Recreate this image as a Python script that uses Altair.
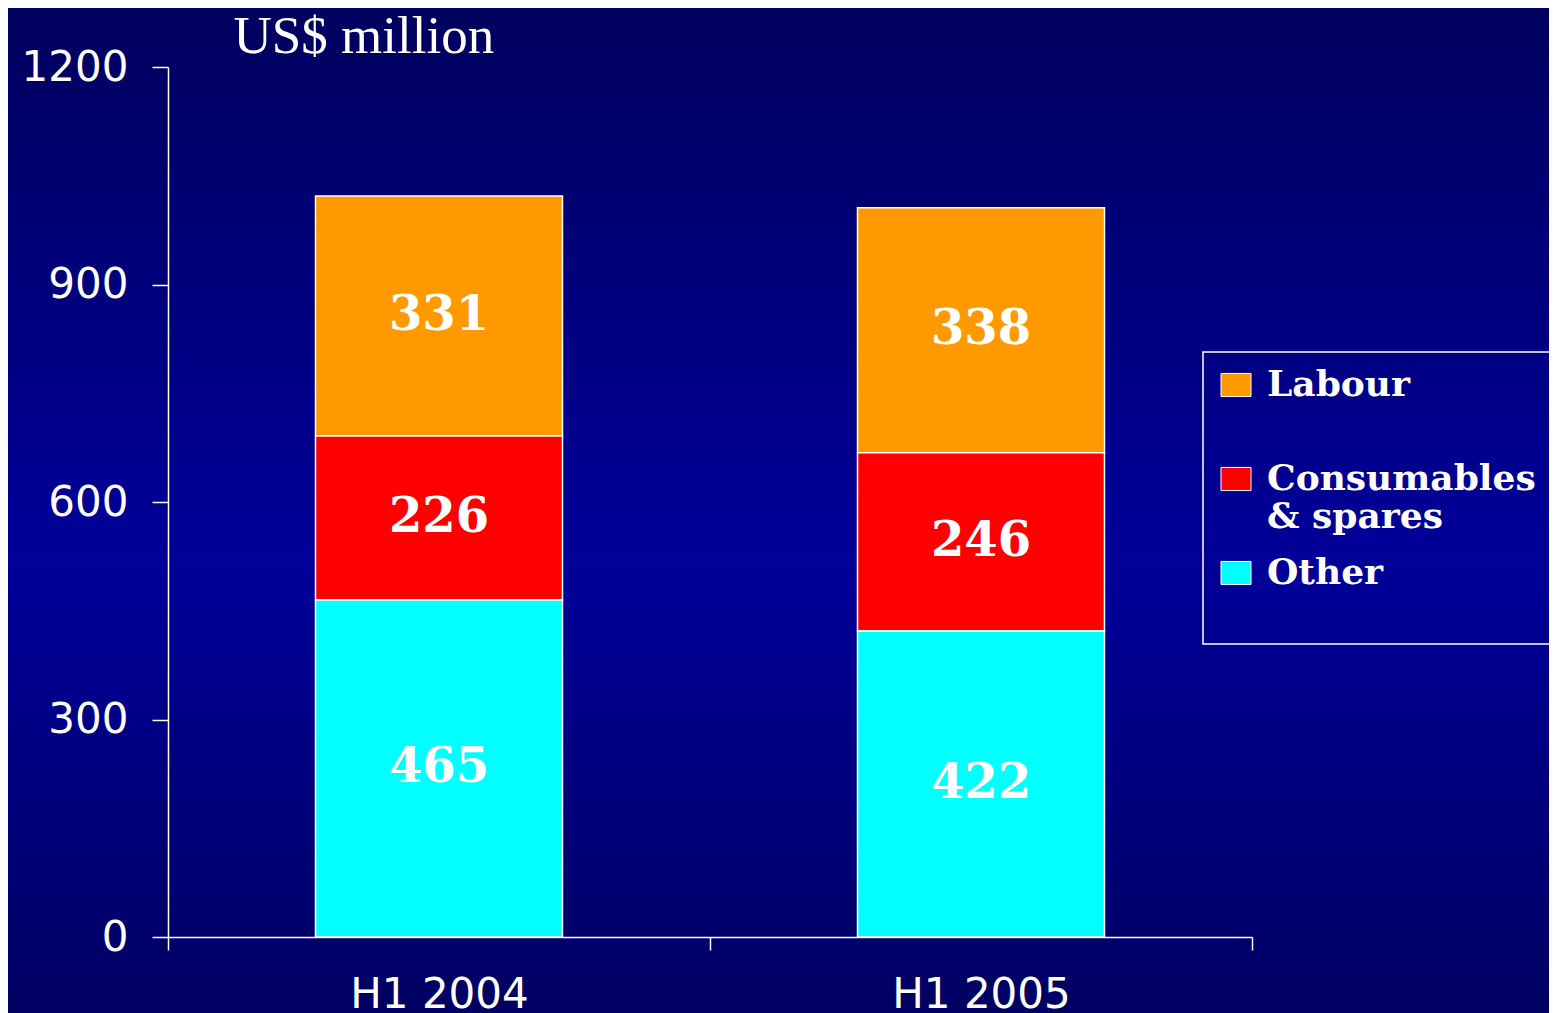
import altair as alt
import pandas as pd

# ---- data ----
periods = ["H1 2004", "H1 2005"]
categories = ["Labour", "Consumables & spares", "Other"]
labour = [331, 338]
consumables = [226, 246]
other = [465, 422]
colors = ["#FF9900", "#FF0000", "#00FFFF"]
y_ticks = [0, 300, 600, 900, 1200]
unit_label = "US$ million"

series = {"Labour": labour, "Consumables & spares": consumables, "Other": other}
stack_order = {"Other": 0, "Consumables & spares": 1, "Labour": 2}
rows = []
for cat, vals in series.items():
    for p, v in zip(periods, vals):
        rows.append({"Period": p, "Category": cat, "Value": v, "order": stack_order[cat]})
df = pd.DataFrame(rows)

W, H = 1084, 870
PAD = {"left": 160, "top": 59, "right": 297, "bottom": 76}

# background gradient panel (decoration, covers whole canvas)
bg = alt.Chart(pd.DataFrame({"k": [0]})).mark_rect(
    color=alt.LinearGradient(
        gradient="linear", x1=0, x2=0, y1=0, y2=1,
        stops=[
            alt.GradientStop(offset=0, color="#00005E"),
            alt.GradientStop(offset=0.55, color="#00009A"),
            alt.GradientStop(offset=1, color="#000062"),
        ],
    )
).encode(
    x=alt.value(-PAD["left"]), x2=alt.value(W + PAD["right"]),
    y=alt.value(-PAD["top"]), y2=alt.value(H + PAD["bottom"]),
)

base = alt.Chart(df).transform_stack(
    stack="Value", groupby=["Period"], as_=["y0", "y1"],
    sort=[alt.SortField("order", order="ascending")],
).transform_calculate(mid="(datum.y0 + datum.y1) / 2")

x_enc = alt.X(
    "Period:N", sort=periods, title=None,
    scale=alt.Scale(paddingInner=0, paddingOuter=0),
    axis=alt.Axis(
        labelAngle=0, tickBand="extent", domainColor="white", tickColor="white",
        tickSize=13, labelColor="white", labelFont="DejaVu Sans", labelFontSize=42,
        labelPadding=24, domainWidth=1.5, tickWidth=1.5, zindex=1, grid=False,
    ),
)

bars = base.mark_bar(stroke="white", strokeWidth=1.5, size=247).encode(
    x=x_enc,
    y=alt.Y(
        "y0:Q",
        scale=alt.Scale(domain=[0, 1200], nice=False),
        axis=alt.Axis(
            values=y_ticks, format="d", title=unit_label, titleAngle=0, titleAlign="left",
            titleBaseline="alphabetic", titleX=65, titleY=-15,
            titleFont="Liberation Serif", titleFontSize=53, titleFontWeight="normal",
            titleColor="white", domainColor="white", tickColor="white", tickSize=16,
            labelColor="white", labelFont="DejaVu Sans", labelFontSize=42,
            labelPadding=24, domainWidth=1.5, tickWidth=1.5, grid=False, zindex=1,
        ),
    ),
    y2="y1:Q",
    color=alt.Color(
        "Category:N",
        scale=alt.Scale(domain=categories, range=colors),
        legend=alt.Legend(
            title=None, orient="none", legendX=1035, legendY=285,
            strokeColor="white", padding=15,
            symbolType="M-1,-0.77H1V0.77H-1Z", symbolSize=900,
            symbolStrokeColor="white", symbolStrokeWidth=1, symbolOpacity=1,
            labelFont="DejaVu Serif", labelFontWeight="bold", labelFontSize=36,
            labelColor="white", labelOffset=13, labelLimit=1000, rowPadding=20,
            labelExpr="datum.label == 'Consumables & spares' ? ['Consumables', '& spares'] : [datum.label, ' ']",
        ),
    ),
)

labels = base.mark_text(
    color="white", font="DejaVu Serif", fontWeight="bold", fontSize=48,
    baseline="middle", align="center",
).encode(
    x=alt.X("Period:N", sort=periods),
    y=alt.Y("mid:Q"),
    text=alt.Text("Value:Q"),
)

chart = alt.layer(bg, bars, labels).properties(
    width=W, height=H, padding=PAD,
    autosize=alt.AutoSizeParams(type="none"),
    background="#000060",
).configure_view(stroke=None).configure_legend(strokeWidth=1.5)

chart.save("out.html", embed_options={"renderer": "svg", "actions": False})
